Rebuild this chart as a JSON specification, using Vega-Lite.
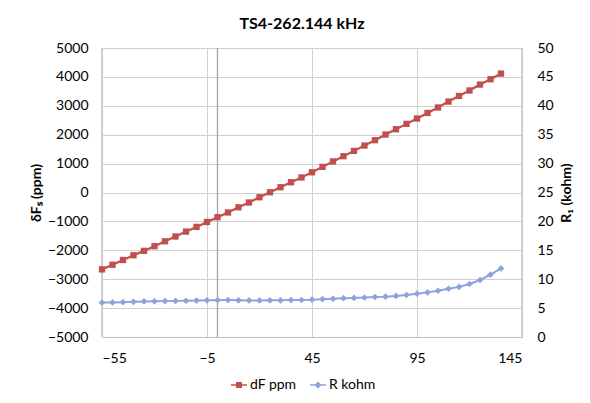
{
  "$schema": "https://vega.github.io/schema/vega-lite/v6.json",
  "width": 420,
  "height": 289,
  "autosize": "none",
  "padding": {"left": 102, "top": 48, "right": 68, "bottom": 66},
  "background": "white",
  "config": {
    "font": "Lato",
    "view": {"stroke": null},
    "axis": {
      "labelFont": "Lato",
      "labelFontSize": 14,
      "labelColor": "#000000",
      "titleFont": "Lato",
      "titleFontSize": 14,
      "titleFontWeight": "bold",
      "titleColor": "#000000",
      "gridColor": "#D0D0D0",
      "gridWidth": 1,
      "ticks": false,
      "domain": false
    }
  },
  "title": {
    "text": "TS4-262.144 kHz",
    "font": "Lato",
    "fontSize": 16,
    "fontWeight": "bold",
    "color": "#000000",
    "offset": 9,
    "dx": -10
  },
  "data": {
    "values": [
      {"T": -55, "dF": -2660, "R": 5.95},
      {"T": -50, "dF": -2500, "R": 5.98},
      {"T": -45, "dF": -2335, "R": 6.02},
      {"T": -40, "dF": -2172, "R": 6.08},
      {"T": -35, "dF": -2020, "R": 6.15},
      {"T": -30, "dF": -1858, "R": 6.18},
      {"T": -25, "dF": -1688, "R": 6.22},
      {"T": -20, "dF": -1522, "R": 6.25},
      {"T": -15, "dF": -1352, "R": 6.27},
      {"T": -10, "dF": -1190, "R": 6.3},
      {"T": -5, "dF": -1020, "R": 6.35},
      {"T": 0, "dF": -855, "R": 6.37},
      {"T": 5, "dF": -692, "R": 6.38},
      {"T": 10, "dF": -512, "R": 6.35},
      {"T": 15, "dF": -346, "R": 6.33},
      {"T": 20, "dF": -165, "R": 6.33},
      {"T": 25, "dF": 8, "R": 6.34},
      {"T": 30, "dF": 183, "R": 6.35},
      {"T": 35, "dF": 355, "R": 6.38},
      {"T": 40, "dF": 520, "R": 6.4},
      {"T": 45, "dF": 700, "R": 6.45},
      {"T": 50, "dF": 886, "R": 6.55},
      {"T": 55, "dF": 1075, "R": 6.62},
      {"T": 60, "dF": 1256, "R": 6.72},
      {"T": 65, "dF": 1440, "R": 6.76},
      {"T": 70, "dF": 1625, "R": 6.82},
      {"T": 75, "dF": 1810, "R": 6.92},
      {"T": 80, "dF": 2005, "R": 6.98},
      {"T": 85, "dF": 2190, "R": 7.1},
      {"T": 90, "dF": 2375, "R": 7.27},
      {"T": 95, "dF": 2560, "R": 7.5},
      {"T": 100, "dF": 2752, "R": 7.72},
      {"T": 105, "dF": 2942, "R": 8.0},
      {"T": 110, "dF": 3146, "R": 8.35},
      {"T": 115, "dF": 3340, "R": 8.67},
      {"T": 120, "dF": 3530, "R": 9.17},
      {"T": 125, "dF": 3735, "R": 9.86},
      {"T": 130, "dF": 3920, "R": 10.78},
      {"T": 135, "dF": 4115, "R": 11.87}
    ]
  },
  "layer": [
    {
      "data": {"values": [{"edgeT": -55}, {"edgeT": 145}]},
      "mark": {"type": "rule", "color": "#C4C4C4", "strokeWidth": 1.5},
      "encoding": {
        "x": {
          "field": "edgeT",
          "type": "quantitative",
          "scale": {"domain": [-55, 145], "nice": false, "zero": false},
          "axis": {"values": [-55, -5, 45, 95, 145], "title": null, "labelPadding": 14, "domain": true, "domainColor": "#BDBDBD"}
        }
      }
    },
    {
      "data": {"values": [{"axisT": 0}]},
      "mark": {"type": "rule", "color": "#A6A6A6", "strokeWidth": 1.3},
      "encoding": {
        "x": {
          "field": "axisT",
          "type": "quantitative",
          "scale": {"domain": [-55, 145], "nice": false, "zero": false},
          "axis": {"values": [-55, -5, 45, 95, 145], "title": null, "labelPadding": 14, "domain": true, "domainColor": "#BDBDBD"}
        }
      }
    },
    {
      "mark": {"type": "line", "strokeWidth": 2.2, "point": {"shape": "square", "size": 40, "filled": true, "opacity": 1}},
      "encoding": {
        "x": {
          "field": "T",
          "type": "quantitative",
          "scale": {"domain": [-55, 145], "nice": false, "zero": false},
          "axis": {"values": [-55, -5, 45, 95, 145], "title": null, "labelPadding": 14, "domain": true, "domainColor": "#BDBDBD"}
        },
        "y": {
          "field": "dF",
          "type": "quantitative",
          "scale": {"domain": [-5000, 5000], "nice": false},
          "axis": {"orient": "left", "values": [-5000, -4000, -3000, -2000, -1000, 0, 1000, 2000, 3000, 4000, 5000], "format": "d", "title": "δFₛ (ppm)", "labelPadding": 14, "titlePadding": 4}
        },
        "color": {
          "datum": "dF ppm",
          "type": "nominal",
          "scale": {"domain": ["dF ppm", "R kohm"], "range": ["#C0504D", "#8EA3DD"]},
          "legend": {
            "title": null,
            "orient": "none",
            "legendX": 128,
            "legendY": 328,
            "direction": "horizontal",
            "labelFont": "Lato",
            "labelFontSize": 14,
            "labelColor": "#000000",
            "symbolSize": 256,
            "symbolStrokeWidth": 1.5,
            "columnPadding": 10,
            "labelOffset": 2,
            "encode": {
              "symbols": {
                "update": {
                  "shape": {"signal": "datum.value === 'dF ppm' ? 'M-1,0H1M-0.28,-0.28H0.28V0.28H-0.28Z' : 'M-1,0H1M0,-0.32L0.32,0L0,0.32L-0.32,0Z'"},
                  "fill": {"signal": "datum.value === 'dF ppm' ? '#C0504D' : '#8EA3DD'"},
                  "stroke": {"signal": "datum.value === 'dF ppm' ? '#C0504D' : '#8EA3DD'"},
                  "strokeWidth": {"value": 1.5},
                  "fillOpacity": {"value": 1},
                  "opacity": {"value": 1}
                }
              }
            }
          }
        }
      }
    },
    {
      "mark": {"type": "line", "strokeWidth": 2, "point": {"shape": "diamond", "size": 45, "filled": true, "opacity": 1}},
      "encoding": {
        "x": {"field": "T", "type": "quantitative", "scale": {"domain": [-55, 145], "nice": false, "zero": false}},
        "y": {
          "field": "R",
          "type": "quantitative",
          "scale": {"domain": [0, 50], "nice": false},
          "axis": {"orient": "right", "values": [0, 5, 10, 15, 20, 25, 30, 35, 40, 45, 50], "grid": false, "title": "R₁ (kohm)", "titleAngle": 270, "titleBaseline": "top", "labelPadding": 15, "titlePadding": 6}
        },
        "color": {"datum": "R kohm", "type": "nominal"}
      }
    }
  ],
  "resolve": {"scale": {"y": "independent"}}
}
